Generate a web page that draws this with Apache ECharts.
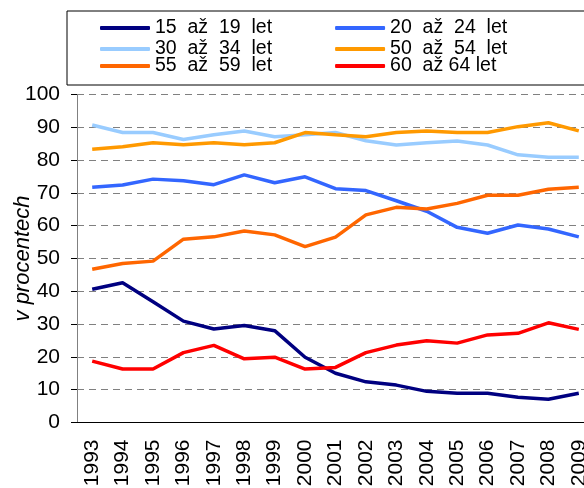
<!DOCTYPE html>
<html>
<head>
<meta charset="utf-8">
<script src="https://cdn.jsdelivr.net/npm/echarts@6/dist/echarts.min.js"></script>
<style>
html, body { margin: 0; padding: 0; background: #fff; }
#chart { width: 584px; height: 488px; }
</style>
</head>
<body>
<div id="chart"></div>
<script>
var years = ['1993', '1994', '1995', '1996', '1997', '1998', '1999', '2000', '2001',
	'2002', '2003', '2004', '2005', '2006', '2007', '2008', '2009'];

var names = ['15  až  19  let', '20  až  24  let', '30  až  34  let',
	'50  až  54  let', '55  až  59  let', '60  až 64 let'];
var colors = ['#000080', '#3366ff', '#99ccff', '#ff9900', '#ff6600', '#ff0000'];

var age15_19 = [40.6, 42.6, 36.8, 30.9, 28.5, 29.6, 28.0, 19.9, 15.0, 12.4, 11.4, 9.5, 8.9, 8.9, 7.7, 7.1, 8.9];
var age20_24 = [71.7, 72.4, 74.2, 73.7, 72.5, 75.5, 73.1, 74.9, 71.3, 70.7, 67.6, 64.4, 59.5, 57.7, 60.2, 59.0, 56.6];
var age30_34 = [90.7, 88.4, 88.4, 86.3, 87.7, 88.9, 87.1, 87.7, 88.4, 85.9, 84.6, 85.3, 85.8, 84.6, 81.6, 80.9, 80.9];
var age50_54 = [83.3, 84.1, 85.3, 84.7, 85.3, 84.7, 85.3, 88.4, 87.7, 87.1, 88.4, 88.9, 88.4, 88.4, 90.2, 91.4, 88.9];
var age55_59 = [46.7, 48.5, 49.2, 55.9, 56.6, 58.4, 57.2, 53.6, 56.5, 63.3, 65.6, 65.1, 66.8, 69.3, 69.3, 71.1, 71.7];
var age60_64 = [18.7, 16.3, 16.3, 21.3, 23.5, 19.4, 19.9, 16.3, 16.8, 21.3, 23.6, 24.9, 24.2, 26.7, 27.2, 30.4, 28.4];

var seriesData = [age15_19, age20_24, age30_34, age50_54, age55_59, age60_64];

var font = 'Liberation Sans, Arial, sans-serif';

var chart = echarts.init(document.getElementById('chart'));

// legenda: tri radky po dvou polozkach
var rowTops = [18, 39, 56];
var legends = rowTops.map(function(top, r) {
	return {
		left: 100,
		top: top,
		padding: 0,
		itemWidth: 50,
		itemHeight: 4,
		itemGap: 63,
		icon: 'roundRect',
		data: [names[r * 2], names[r * 2 + 1]],
		textStyle: { fontFamily: font, fontSize: 19.5, color: '#000', lineHeight: 20 }
	};
});

chart.setOption({
	backgroundColor: '#fff',
	animation: false,
	color: colors,
	graphic: [{
		type: 'rect',
		shape: { x: 67, y: 11, width: 540, height: 74 },
		style: { fill: '#fff', stroke: '#000', lineWidth: 1 },
		z: -1
	}],
	legend: legends,
	grid: { left: 77, top: 94.5, width: 517, height: 328, containLabel: false, outerBoundsMode: 'none' },
	xAxis: {
		type: 'category',
		data: years,
		boundaryGap: true,
		axisLine: { lineStyle: { color: '#000', width: 1 } },
		axisTick: { alignWithLabel: false, length: 6, lineStyle: { color: '#000' } },
		axisLabel: { rotate: 90, fontFamily: font, fontSize: 21, color: '#000', margin: 17, interval: 0 }
	},
	yAxis: {
		type: 'value',
		min: 0,
		max: 100,
		interval: 10,
		name: 'v procentech',
		nameLocation: 'middle',
		nameGap: 43,
		nameMoveOverlap: false,
		nameTextStyle: { fontFamily: font, fontSize: 22, fontStyle: 'italic', color: '#000' },
		axisLine: { show: true, lineStyle: { color: '#808080', width: 1 } },
		axisTick: { show: true, length: 6, lineStyle: { color: '#000' } },
		axisLabel: { fontFamily: font, fontSize: 21, color: '#000', margin: 17 },
		splitLine: { lineStyle: { color: '#808080', type: [7, 5], width: 1 } }
	},
	series: seriesData.map(function(d, i) {
		return {
			name: names[i],
			type: 'line',
			data: d,
			symbol: 'none',
			lineStyle: { width: 3.5, color: colors[i] },
			itemStyle: { color: colors[i] }
		};
	})
});
</script>
</body>
</html>
